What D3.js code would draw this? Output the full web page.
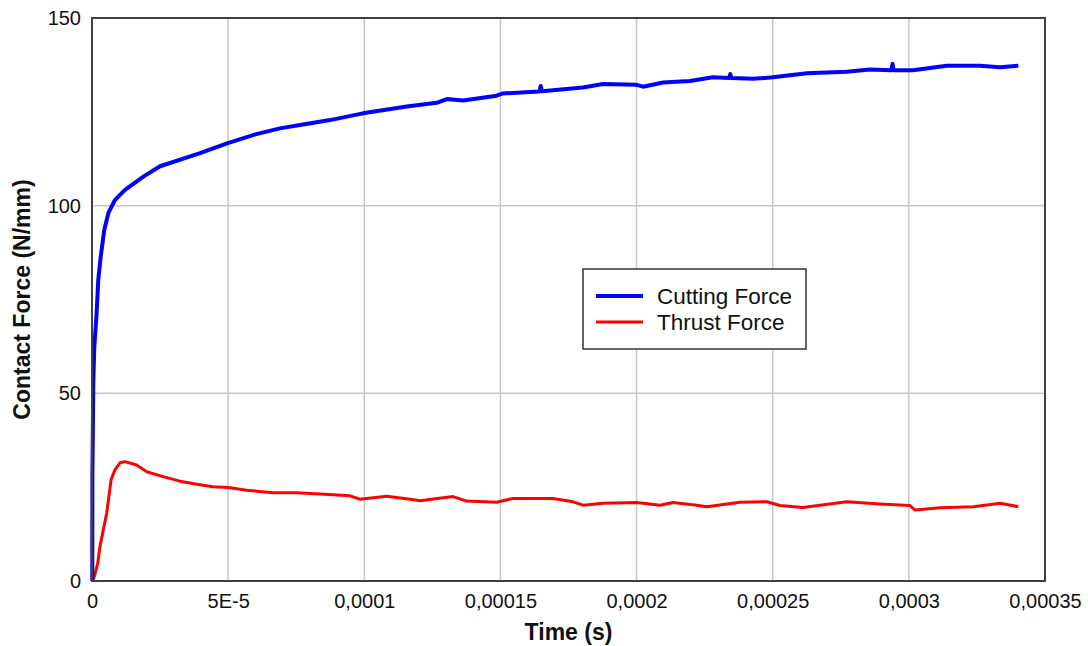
<!DOCTYPE html>
<html>
<head>
<meta charset="utf-8">
<script src="https://cdn.jsdelivr.net/npm/d3@7"></script>
<style>
  body { margin: 0; background: #fff; }
  text { font-family: Arial, "Liberation Sans", sans-serif; fill: #111; }
</style>
</head>
<body>
<div id="canvas"></div>
<script>
// time values in microseconds, force in N/mm
var cutTime = [0.1, 0.15, 0.5, 0.85, 1.7, 2.3, 3.2, 4.5, 6.0, 8.4, 12.1, 19, 25, 39.7, 49.6, 60, 69, 76.4,
  87.4, 99.5, 115.6, 126.6, 130.3, 136.3, 148.6, 150.9, 164.3, 164.8, 165.3, 180.3, 187.7, 200, 202.4,
  209.7, 219.6, 228, 234.0, 234.4, 234.8, 242.8, 250.1, 262.5, 277.2, 285.7, 293.6, 294.0, 294.4,
  301.5, 313.9, 326.1, 333.5, 340.2];
var cutForce = [0, 28.8, 53.6, 62.4, 71.4, 80.2, 86.4, 93.5, 98.0, 101.5, 104.2, 107.8, 110.5, 114, 116.6, 119, 120.6, 121.5,
  122.8, 124.6, 126.4, 127.4, 128.4, 128.0, 129.3, 129.9, 130.4, 131.9, 130.5, 131.5, 132.4, 132.2, 131.7,
  132.8, 133.2, 134.2, 134.0, 135.1, 134.0, 133.8, 134.2, 135.3, 135.7, 136.3, 136.1, 137.8, 136.1,
  136.1, 137.3, 137.3, 136.9, 137.3];

var thrustTime = [0.4, 2.1, 2.9, 5.4, 7.0, 8.4, 10.3, 12.1, 16.4, 20.1, 26.1, 32.3, 38.5, 44.4, 50, 56.8, 66.5,
  75.2, 83.7, 94.8, 98.4, 108.2, 116.8, 120.5, 132.6, 137.6, 148.6, 154.6, 169.3, 176.7, 180.3, 187.7,
  200, 208.6, 213.4, 222.1, 225.8, 238, 247.8, 252.7, 261.1, 277.2, 289.4, 300.4, 302.3, 311.4, 323.7,
  333.5, 340.2];
var thrustForce = [0, 4.7, 9.1, 18.1, 26.9, 29.6, 31.5, 31.8, 30.9, 29.1, 27.8, 26.6, 25.8, 25.1, 24.9, 24.2, 23.5,
  23.5, 23.2, 22.7, 21.8, 22.6, 21.8, 21.4, 22.5, 21.3, 21.0, 22.0, 22.0, 21.1, 20.2, 20.7,
  20.9, 20.2, 20.9, 20.2, 19.8, 21.0, 21.1, 20.1, 19.6, 21.1, 20.5, 20.1, 18.9, 19.5, 19.8,
  20.7, 19.8];

var xTicks = [0, 0.00005, 0.0001, 0.00015, 0.0002, 0.00025, 0.0003, 0.00035];
var xTickLabels = ["0", "5E-5", "0,0001", "0,00015", "0,0002", "0,00025", "0,0003", "0,00035"];
var yTicks = [0, 50, 100, 150];

var seriesNames = ["Cutting Force", "Thrust Force"];
var seriesColors = ["#0000ff", "#ff0000"];

var W = 1088, H = 646;
var margin = { top: 18, right: 43, bottom: 65, left: 92 };
var width = W - margin.left - margin.right,
  height = H - margin.top - margin.bottom;

var svg = d3.select("#canvas").append("svg")
  .attr("width", W)
  .attr("height", H);

var g = svg.append("g")
  .attr("transform", "translate(" + margin.left + "," + margin.top + ")");

var xScale = d3.scaleLinear().domain([0, 0.00035]).range([0, width]);
var yScale = d3.scaleLinear().domain([0, 150]).range([height, 0]);

// grid
g.append("g").selectAll("line").data(xTicks.slice(1, -1)).enter().append("line")
  .attr("x1", d => xScale(d)).attr("x2", d => xScale(d))
  .attr("y1", 0).attr("y2", height)
  .attr("stroke", "#c8c8c8").attr("stroke-width", 1.5);
g.append("g").selectAll("line").data(yTicks.slice(1, -1)).enter().append("line")
  .attr("x1", 0).attr("x2", width)
  .attr("y1", d => yScale(d)).attr("y2", d => yScale(d))
  .attr("stroke", "#c8c8c8").attr("stroke-width", 1.5);

// axes (labels only, frame drawn below)
var x_axis = d3.axisBottom(xScale).tickValues(xTicks)
  .tickFormat((d, i) => xTickLabels[i]).tickSize(0).tickPadding(13);
var gx = g.append("g").attr("transform", "translate(0," + height + ")").call(x_axis);
gx.select(".domain").remove();
gx.selectAll("text").style("font-size", "20px").attr("fill", "#111");

var y_axis = d3.axisLeft(yScale).tickValues(yTicks).tickSize(0).tickPadding(11);
var gy = g.append("g").call(y_axis);
gy.select(".domain").remove();
gy.selectAll("text").style("font-size", "20px").attr("fill", "#111");

// lines
var cutData = cutTime.map((t, i) => [t * 1e-6, cutForce[i]]);
var thrustData = thrustTime.map((t, i) => [t * 1e-6, thrustForce[i]]);
var line = d3.line().x(d => xScale(d[0])).y(d => yScale(d[1]));

g.append("path").datum(thrustData)
  .attr("d", line).attr("fill", "none")
  .attr("stroke", seriesColors[1]).attr("stroke-width", 3).attr("stroke-linejoin", "round");
g.append("path").datum(cutData)
  .attr("d", line).attr("fill", "none")
  .attr("stroke", seriesColors[0]).attr("stroke-width", 4).attr("stroke-linejoin", "round");

// frame
g.append("rect").attr("width", width).attr("height", height)
  .attr("fill", "none").attr("stroke", "#404040").attr("stroke-width", 2);

// axis titles
svg.append("text")
  .attr("x", margin.left + width / 2).attr("y", 640)
  .attr("text-anchor", "middle")
  .style("font-size", "23px").style("font-weight", "bold")
  .text("Time (s)");
svg.append("text")
  .attr("transform", "translate(30," + (margin.top + height / 2) + ") rotate(-90)")
  .attr("text-anchor", "middle")
  .style("font-size", "23px").style("font-weight", "bold")
  .text("Contact Force (N/mm)");

// legend
var legend = svg.append("g").attr("transform", "translate(583,269)");
legend.append("rect").attr("width", 223).attr("height", 80)
  .attr("fill", "#fff").attr("stroke", "#333").attr("stroke-width", 1.5);
var items = legend.selectAll(".item").data(seriesNames).enter().append("g")
  .attr("transform", (d, i) => "translate(0," + (27 + i * 26) + ")");
items.append("line").attr("x1", 13).attr("x2", 60)
  .attr("stroke", (d, i) => seriesColors[i])
  .attr("stroke-width", (d, i) => i == 0 ? 4 : 3);
items.append("text").attr("x", 74).attr("y", 8)
  .style("font-size", "22.5px")
  .text(d => d);
</script>
</body>
</html>
